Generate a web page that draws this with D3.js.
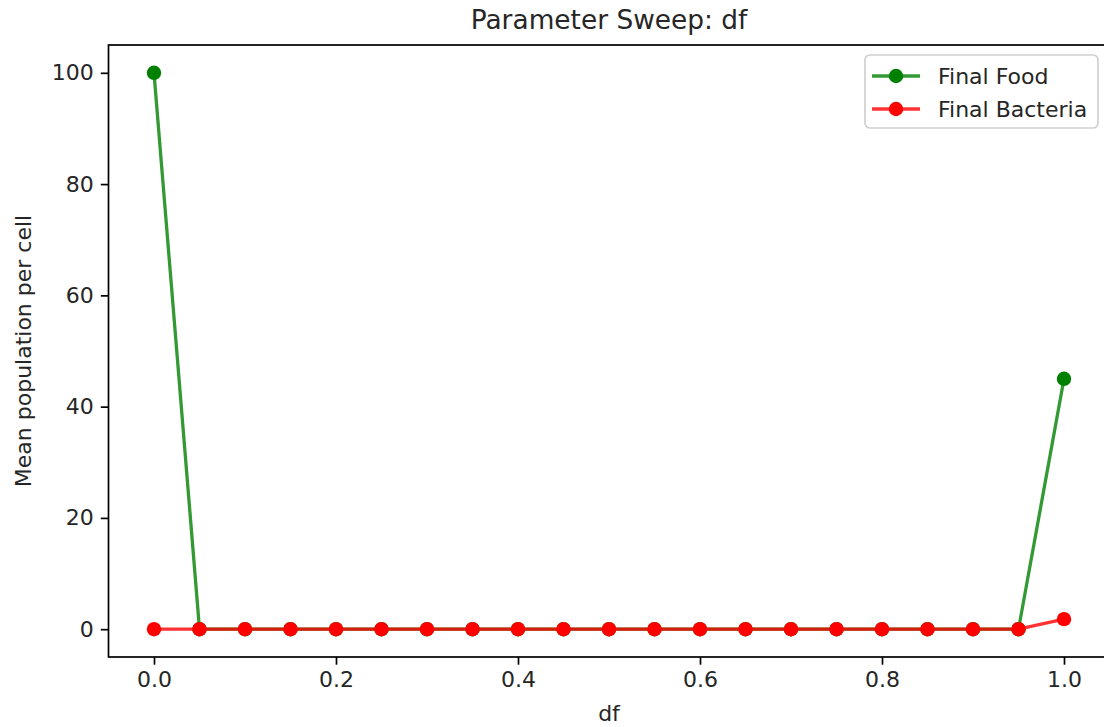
<!DOCTYPE html>
<html><head><meta charset="utf-8">
<script src="https://cdn.jsdelivr.net/npm/d3@7"></script>
<style>
body{margin:0;background:#fff;}
text{font-family:"DejaVu Sans",sans-serif;fill:#262626;}
</style></head>
<body>
<svg id="c" width="1104" height="727"></svg>
<script>
const dfValues = [0.0,0.05,0.1,0.15,0.2,0.25,0.3,0.35,0.4,0.45,0.5,0.55,0.6,0.65,0.7,0.75,0.8,0.85,0.9,0.95,1.0];
const finalFood = [100,0,0,0,0,0,0,0,0,0,0,0,0,0,0,0,0,0,0,0,45];
const finalBacteria = [0,0,0,0,0,0,0,0,0,0,0,0,0,0,0,0,0,0,0,0,1.8];
const xTicks = [0.0,0.2,0.4,0.6,0.8,1.0];
const yTicks = [0,20,40,60,80,100];
const seriesNames = ["Final Food","Final Bacteria"];
const seriesColors = ["#008000","#ff0000"];

const svg = d3.select("#c");
const L = 108.5, R = 1109.5, T = 45, B = 657;
const x = d3.scaleLinear().domain([-0.05,1.05]).range([L,R]);
const y = d3.scaleLinear().domain([-5,105]).range([B,T]);

const fs = 22;
// axes
const xa = svg.append("g").attr("transform",`translate(0,${B})`)
  .call(d3.axisBottom(x).tickValues(xTicks).tickFormat(d3.format(".1f")).tickSizeOuter(0).tickSize(7.7).tickPadding(7));
const ya = svg.append("g").attr("transform",`translate(${L},0)`)
  .call(d3.axisLeft(y).tickValues(yTicks).tickFormat(d3.format("d")).tickSizeOuter(0).tickSize(7.7).tickPadding(7));
[xa,ya].forEach(a=>{
  a.select(".domain").remove();
  a.selectAll(".tick line").attr("stroke","#000").attr("stroke-width",1.7);
  a.selectAll(".tick text").attr("font-size",fs).attr("font-family","DejaVu Sans").attr("fill","#262626");
});
// frame
svg.append("rect").attr("x",L).attr("y",T).attr("width",R-L).attr("height",B-T)
  .attr("fill","none").attr("stroke","#000").attr("stroke-width",1.7);

const data = [finalFood, finalBacteria];
const line = d3.line().x((d,i)=>x(dfValues[i])).y(d=>y(d));
data.forEach((s,k)=>{
  const g = svg.append("g");
  g.append("path").attr("d",line(s)).attr("fill","none")
    .attr("stroke",seriesColors[k]).attr("stroke-width",3.3).attr("stroke-opacity",0.8);
  g.selectAll("circle").data(s).join("circle")
    .attr("cx",(d,i)=>x(dfValues[i])).attr("cy",d=>y(d)).attr("r",7.2)
    .attr("fill",seriesColors[k]);
});

// title & labels
svg.append("text").attr("x",(L+R)/2).attr("y",29).attr("text-anchor","middle")
  .attr("font-size",26.4).text("Parameter Sweep: df");
svg.append("text").attr("x",(L+R)/2).attr("y",721).attr("text-anchor","middle")
  .attr("font-size",fs).text("df");
svg.append("text").attr("transform",`translate(31,${(T+B)/2}) rotate(-90)`).attr("text-anchor","middle")
  .attr("font-size",fs).text("Mean population per cell");

// legend
const lg = svg.append("g");
lg.append("rect").attr("x",865).attr("y",55).attr("width",233).attr("height",73).attr("rx",5)
  .attr("fill","#fff").attr("fill-opacity",0.8).attr("stroke","#d0d0d0").attr("stroke-width",1.7);
seriesNames.forEach((n,k)=>{
  const yy = 76 + k*33;
  lg.append("line").attr("x1",872).attr("x2",920).attr("y1",yy).attr("y2",yy)
    .attr("stroke",seriesColors[k]).attr("stroke-width",3.3).attr("stroke-opacity",0.8);
  lg.append("circle").attr("cx",896).attr("cy",yy).attr("r",7.2).attr("fill",seriesColors[k]);
  lg.append("text").attr("x",938).attr("y",yy+8).attr("font-size",fs).text(n);
});
</script>
</body></html>
